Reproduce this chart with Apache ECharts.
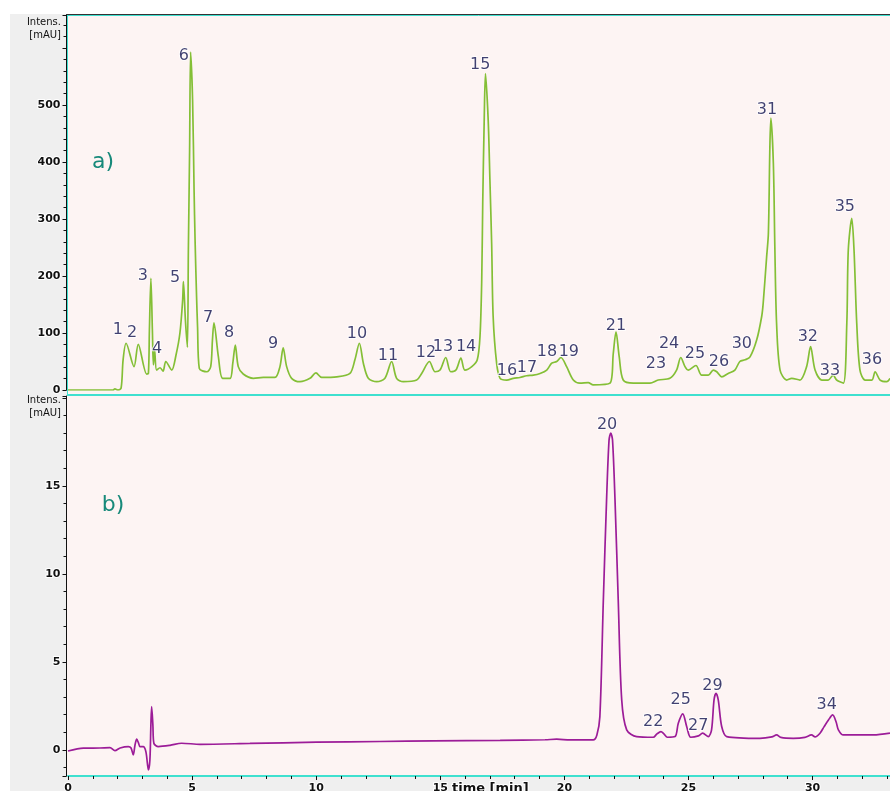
<!DOCTYPE html>
<html><head><meta charset="utf-8">
<script src="https://cdn.jsdelivr.net/npm/echarts@6/dist/echarts.min.js"></script>
<style>html,body{margin:0;padding:0;background:#fff}#c{width:890px;height:791px}</style>
</head><body><div id="c"></div>
<script>
// ---- data (time in min, intensity in mAU) ----
const chromatogramA = [[0,0],[1.81,0],[1.89,1.8],[2.01,0],[2.14,3.5],[2.22,53],[2.34,82],[2.66,41],[2.83,80],[3.17,28],[3.24,29],[3.28,105],[3.34,196],[3.40,105],[3.44,44],[3.49,70],[3.57,35],[3.71,39],[3.83,33],[3.94,50],[4.18,35],[4.35,61],[4.51,100],[4.62,158],[4.65,190],[4.73,123],[4.81,75],[4.85,246],[4.90,421],[4.94,593],[5.02,509],[5.08,351],[5.12,263],[5.18,164],[5.22,111],[5.29,38],[5.59,32],[5.75,41],[5.82,88],[5.88,118],[6.06,58],[6.23,20.5],[6.53,20.5],[6.64,47],[6.74,79],[6.86,41],[7.06,28],[7.47,20.5],[7.87,22],[8.34,22],[8.54,41],[8.67,74],[8.81,41],[9.01,20.5],[9.35,14.6],[9.75,20.5],[9.99,30],[10.22,22],[10.83,23],[11.36,29],[11.56,53],[11.74,82],[11.90,47],[12.10,20.5],[12.44,14.6],[12.77,20.5],[13.04,50],[13.24,20.5],[13.51,14.6],[14.05,17.5],[14.25,29],[14.56,50],[14.79,32],[14.99,35],[15.22,57],[15.42,32],[15.63,35],[15.83,56],[15.99,35],[16.27,41],[16.49,53],[16.60,94],[16.67,193],[16.71,327],[16.77,474],[16.82,555],[16.93,474],[17.00,368],[17.07,257],[17.13,129],[17.27,47],[17.41,20.5],[17.68,17.5],[17.94,20.5],[18.21,22],[18.48,25],[18.75,26],[19.02,29],[19.29,35],[19.49,47],[19.69,50],[19.86,57],[20.09,41],[20.36,17.5],[20.63,12],[20.96,13],[21.16,9],[21.84,12],[21.97,64],[22.08,102],[22.21,58],[22.37,17.5],[22.78,12],[23.45,12],[23.78,17.5],[24.25,20.5],[24.52,35],[24.69,57],[24.86,41],[24.99,35],[25.30,43],[25.53,26],[25.80,26],[26.00,35],[26.14,32],[26.34,23],[26.60,29],[26.87,35],[27.07,50],[27.28,53],[27.48,58],[27.75,88],[27.95,129],[28.01,152],[28.15,234],[28.22,275],[28.28,427],[28.32,477],[28.42,398],[28.48,251],[28.55,117],[28.69,35],[28.96,17.5],[29.16,20.5],[29.49,17.5],[29.76,41],[29.92,76],[30.10,35],[30.37,17.5],[30.63,17.5],[30.83,26],[30.97,17.5],[31.24,12],[31.38,117],[31.44,246],[31.58,301],[31.67,246],[31.78,117],[31.91,35],[32.12,17.5],[32.39,17.5],[32.52,32],[32.72,17.5],[32.99,14.6],[33.12,20.5]];

const chromatogramB = [[0,-0.06],[0.62,0.10],[1.29,0.11],[1.69,0.13],[1.89,-0.04],[2.10,0.11],[2.43,0.19],[2.54,0.11],[2.63,-0.28],[2.70,0.28],[2.77,0.61],[2.84,0.40],[2.90,0.19],[3.03,0.19],[3.14,-0.11],[3.24,-1.14],[3.30,-0.57],[3.34,1.42],[3.37,2.46],[3.42,1.42],[3.46,0.38],[3.64,0.19],[4.11,0.26],[4.58,0.38],[5.32,0.32],[7.33,0.37],[10.02,0.44],[12.57,0.48],[14.72,0.51],[17.41,0.54],[19.22,0.58],[19.69,0.61],[20.23,0.57],[21.16,0.57],[21.31,0.85],[21.43,1.89],[21.57,8.52],[21.70,14.2],[21.80,17.6],[21.87,18.0],[21.94,17.6],[22.04,14.2],[22.17,8.52],[22.31,2.84],[22.51,1.14],[22.91,0.76],[23.58,0.72],[23.73,0.91],[23.89,1.04],[24.01,0.91],[24.15,0.72],[24.46,0.76],[24.59,1.52],[24.77,2.05],[24.93,1.32],[25.09,0.72],[25.40,0.80],[25.57,0.95],[25.80,0.76],[25.93,1.14],[26.03,2.84],[26.11,3.22],[26.20,2.84],[26.34,1.32],[26.54,0.76],[27.88,0.66],[28.36,0.74],[28.55,0.85],[28.72,0.71],[29.22,0.66],[29.69,0.71],[29.96,0.85],[30.10,0.74],[30.30,0.95],[30.46,1.31],[30.64,1.70],[30.81,1.99],[30.95,1.59],[31.04,1.14],[31.24,0.85],[32.45,0.85],[33.12,0.95]];

// peak annotations: name, label time, label intensity
const peakNamesA = ['1','2','3','4','5','6','7','8','9','10','11','12','13','14','15','16','17','18','19','21','23','24','25','26','30','31','32','33','35','36'];
const peakTimeA  = [2.01,2.58,3.02,3.59,4.31,4.67,5.64,6.49,8.26,11.64,12.89,14.42,15.11,16.04,16.61,17.69,18.49,19.30,20.18,22.08,23.69,24.22,25.26,26.23,27.15,28.16,29.81,30.70,31.30,32.39];
const peakLabelA = [105,100,200,72,196,586,126,100,81,98,60,65,75,75,570,33,39,67,67,112,46,81,63,49,81,491,93,33,321,53];

const peakNamesB = ['20','22','25','27','29','34'];
const peakTimeB  = [21.72,23.58,24.69,25.39,25.97,30.57];
const peakLabelB = [18.47,1.61,2.84,1.36,3.64,2.56];

const xTickLabels = [0,5,10,15,20,25,30];
const yTickLabelsA = [0,100,200,300,400,500];
const yTickLabelsB = [0,5,10,15];

// ---- chart ----
const FONT = 'DejaVu Sans';
const chart = echarts.init(document.getElementById('c'), null, {renderer:'canvas', width:890, height:791});

const tickLabelStyle = {fontFamily:FONT, fontSize:11, fontWeight:'bold', color:'#111', textBorderColor:'#fff', textBorderWidth:2};
const peakLabelStyle = {show:true, position:'inside', formatter:'{b}', fontFamily:FONT, fontSize:16, color:'#12124e', textBorderColor:'#fff', textBorderWidth:2};

function labelItems(names, times, vals){
  return names.map((n,i)=>({name:n, value:[times[i], vals[i]]}));
}

const option = {
  animation:false,
  backgroundColor:'#ffffff',
  grid:[
    {left:68, top:15, width:822, height:375, outerBoundsMode:'none', containLabel:false},
    {left:68, top:396, width:822, height:380, outerBoundsMode:'none', containLabel:false}
  ],
  xAxis:[
    {gridIndex:0, type:'value', min:0, max:33.12, show:false},
    {gridIndex:1, type:'value', min:0, max:33.12, interval:5,
      axisLine:{show:true, onZero:false, lineStyle:{color:'#3fe0cf', width:2}},
      axisTick:{show:true, length:4, lineStyle:{color:'#111'}},
      minorTick:{show:true, splitNumber:5, length:3, lineStyle:{color:'#111'}},
      splitLine:{show:false},
      axisLabel:Object.assign({margin:7, showMaxLabel:false,
        formatter:v=>xTickLabels.includes(v)?String(v):''}, tickLabelStyle)
    }
  ],
  yAxis:[
    {gridIndex:0, type:'value', min:0, max:658, interval:100, offset:1.5,
      axisLine:{show:true, onZero:false, lineStyle:{color:'#111', width:1}},
      axisTick:{show:true, length:4, lineStyle:{color:'#111'}},
      minorTick:{show:true, splitNumber:5, length:3, lineStyle:{color:'#111'}},
      splitLine:{show:false},
      axisLabel:Object.assign({margin:6, formatter:v=>yTickLabelsA.includes(v)?String(v):''}, tickLabelStyle)
    },
    {gridIndex:1, type:'value', min:-1.48, max:20.1, splitNumber:4, offset:1.5,
      axisLine:{show:true, onZero:false, lineStyle:{color:'#111', width:1}},
      axisTick:{show:true, length:4, lineStyle:{color:'#111'}},
      minorTick:{show:true, splitNumber:5, length:3, lineStyle:{color:'#111'}},
      splitLine:{show:false},
      axisLabel:Object.assign({margin:6, showMinLabel:false, showMaxLabel:false,
        formatter:v=>yTickLabelsB.includes(v)?String(v):''}, tickLabelStyle)
    }
  ],
  series:[
    {type:'line', xAxisIndex:0, yAxisIndex:0, data:chromatogramA, showSymbol:false, smooth:0.3,
      lineStyle:{color:'#84bf36', width:1.7}, z:3},
    {type:'line', xAxisIndex:1, yAxisIndex:1, data:chromatogramB, showSymbol:false, smooth:0.3,
      lineStyle:{color:'#9c1c98', width:1.7}, z:3},
    {type:'scatter', xAxisIndex:0, yAxisIndex:0, symbolSize:1, itemStyle:{color:'rgba(0,0,0,0)'},
      data:labelItems(peakNamesA, peakTimeA, peakLabelA), label:peakLabelStyle, z:5},
    {type:'scatter', xAxisIndex:1, yAxisIndex:1, symbolSize:1, itemStyle:{color:'rgba(0,0,0,0)'},
      data:labelItems(peakNamesB, peakTimeB, peakLabelB), label:peakLabelStyle, z:5}
  ],
  graphic:[
    {type:'rect', silent:true, z:-10, shape:{x:10, y:14, width:57, height:777}, style:{fill:'#efefef'}},
    {type:'rect', silent:true, z:-10, shape:{x:10, y:777, width:880, height:14}, style:{fill:'#efefef'}},
    {type:'rect', silent:true, z:-9, shape:{x:67, y:15, width:823, height:761}, style:{fill:'#fdf4f3'}},
    {type:'line', silent:true, z:50, shape:{x1:66, y1:14.5, x2:890, y2:14.5}, style:{stroke:'#333', lineWidth:1}},
    {type:'line', silent:true, z:50, shape:{x1:67, y1:15.5, x2:890, y2:15.5}, style:{stroke:'#3fe0cf', lineWidth:1}},
    {type:'line', silent:true, z:50, shape:{x1:67.5, y1:15, x2:67.5, y2:395}, style:{stroke:'#3fe0cf', lineWidth:1}},
    {type:'line', silent:true, z:50, shape:{x1:67, y1:395, x2:890, y2:395}, style:{stroke:'#3fe0cf', lineWidth:2}},
    {type:'text', silent:true, z:50, style:{text:'Intens.', x:61, y:17, font:'10px "DejaVu Sans"', fill:'#111', align:'right', verticalAlign:'top'}},
    {type:'text', silent:true, z:50, style:{text:'[mAU]', x:61, y:30, font:'10px "DejaVu Sans"', fill:'#111', align:'right', verticalAlign:'top'}},
    {type:'text', silent:true, z:50, style:{text:'Intens.', x:61, y:395, font:'10px "DejaVu Sans"', fill:'#111', align:'right', verticalAlign:'top'}},
    {type:'text', silent:true, z:50, style:{text:'[mAU]', x:61, y:408, font:'10px "DejaVu Sans"', fill:'#111', align:'right', verticalAlign:'top'}},
    {type:'text', silent:true, z:50, style:{text:'a)', x:103, y:162, font:'22px "DejaVu Sans"', fill:'#17897a', align:'center', verticalAlign:'middle'}},
    {type:'text', silent:true, z:50, style:{text:'b)', x:113, y:505, font:'22px "DejaVu Sans"', fill:'#17897a', align:'center', verticalAlign:'middle'}},
    {type:'text', silent:true, z:50, style:{text:'time [min]', x:452, y:782, font:'bold 13px "DejaVu Sans"', fill:'#111', align:'left', verticalAlign:'top', stroke:'#fff', lineWidth:2}}
  ]
};
chart.setOption(option);
</script></body></html>
